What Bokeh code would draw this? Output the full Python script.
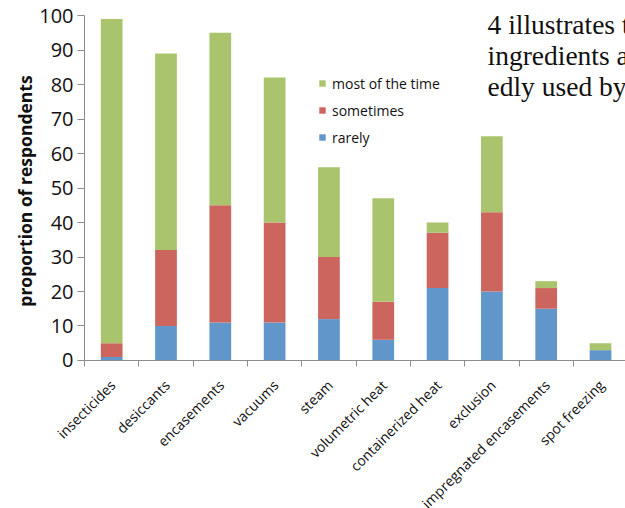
import math
from bokeh.plotting import figure
from bokeh.models import (Range1d, FixedTicker, Legend, LegendItem, ColumnDataSource,
                          Label, CustomJSTickFormatter)
from bokeh.embed import file_html
from bokeh.resources import INLINE

# ---- data ----
categories = ["insecticides", "desiccants", "encasements", "vacuums", "steam",
              "volumetric heat", "containerized heat", "exclusion",
              "impregnated encasements", "spot freezing"]
rarely = [1, 10, 11, 11, 12, 6, 21, 20, 15, 3]
sometimes = [4, 22, 34, 29, 18, 11, 16, 23, 6, 0]
most_of_the_time = [94, 57, 50, 42, 26, 30, 3, 22, 2, 2]
y_ticks = [0, 10, 20, 30, 40, 50, 60, 70, 80, 90, 100]
series_labels = ["rarely", "sometimes", "most of the time"]
y_title = "proportion of respondents"
body_text = ["4 illustrates t", "ingredients a", "edly used by"]

colors = ["#6196CB", "#CD655F", "#A9C46C"]
FONT = "Open Sans"
TXT = "#111111"
AX = "#8C8C8C"
H = 508

n = len(categories)
xpos = [i + 0.5 for i in range(n)]
src = ColumnDataSource(dict(x=xpos, cat=categories, rarely=rarely,
                            sometimes=sometimes, most=most_of_the_time))

p = figure(width=625, height=H, output_backend="svg", toolbar_location=None,
           x_range=Range1d(-1.547, 9.96), y_range=Range1d(-42.9, 104.35),
           min_border_left=0, min_border_right=0, min_border_top=0,
           min_border_bottom=0)
p.outline_line_color = None
p.xgrid.visible = False
p.ygrid.visible = False
p.background_fill_color = "white"
p.border_fill_color = "white"

rends = p.vbar_stack(["rarely", "sometimes", "most"], x="x", width=0.40,
                     color=colors, line_color=None, source=src)

# y axis at x=0: line + outward ticks; numbers drawn as labels
ya = p.yaxis[0]
ya.fixed_location = 0
ya.ticker = FixedTicker(ticks=[], minor_ticks=y_ticks)
ya.bounds = (y_ticks[0], y_ticks[-1])
ya.formatter = CustomJSTickFormatter(code="return '';")
ya.major_label_text_font_size = "0px"
ya.major_label_standoff = 0
ya.axis_line_color = AX
ya.major_tick_line_color = None
ya.major_tick_out = 0
ya.major_tick_in = 0
ya.minor_tick_line_color = AX
ya.minor_tick_out = 7
ya.minor_tick_in = 0

for t in y_ticks:
    p.add_layout(Label(x=0, y=t, text=str(t), x_offset=-11, text_align="right",
                       text_baseline="middle", text_font=FONT,
                       text_font_size="20px", text_color=TXT))

p.add_layout(Label(x=0, y=(y_ticks[0] + y_ticks[-1]) / 2, text=y_title,
                   angle=math.pi / 2, x_offset=-60, y_offset=-3,
                   text_align="center", text_baseline="middle",
                   text_font=FONT, text_font_style="bold",
                   text_font_size="17.5px", text_color=TXT))

# x axis at y=0: boundary ticks; category names drawn as labels below
xa = p.xaxis[0]
xa.fixed_location = 0
xa.ticker = FixedTicker(ticks=[], minor_ticks=list(range(n + 1)))
xa.formatter = CustomJSTickFormatter(code="return '';")
xa.major_label_text_font_size = "0px"
xa.major_label_standoff = 0
xa.bounds = (0, p.x_range.end)
xa.axis_line_color = AX
xa.major_tick_line_color = None
xa.major_tick_out = 0
xa.minor_tick_line_color = AX
xa.minor_tick_out = 6
xa.minor_tick_in = 0

for xi, cat in zip(xpos, categories):
    p.add_layout(Label(x=xi, y=0, text=cat, angle=math.pi / 4,
                       x_offset=1, y_offset=-22, text_align="right",
                       text_baseline="middle", text_font=FONT,
                       text_font_size="14px", text_color=TXT))

# legend
items = [LegendItem(label=series_labels[i], renderers=[rends[i]]) for i in (2, 1, 0)]
leg = Legend(items=items, location=(318, 361), orientation="vertical",
             glyph_width=8, glyph_height=8, label_standoff=6, spacing=7,
             label_height=20, padding=0, margin=0,
             label_text_font=FONT, label_text_font_size="14px",
             label_text_color=TXT,
             border_line_color=None, background_fill_alpha=0)
p.add_layout(leg)

# overlapping body text from the page (cropped at the right edge)
for i, t in enumerate(body_text):
    p.add_layout(Label(x=487, y=H - 24 - 31 * i, x_units="screen", y_units="screen",
                       text=t, text_font="Liberation Serif", text_font_size="27.5px",
                       text_color=TXT, text_baseline="alphabetic"))

open("out.html", "w").write(file_html(p, INLINE))
